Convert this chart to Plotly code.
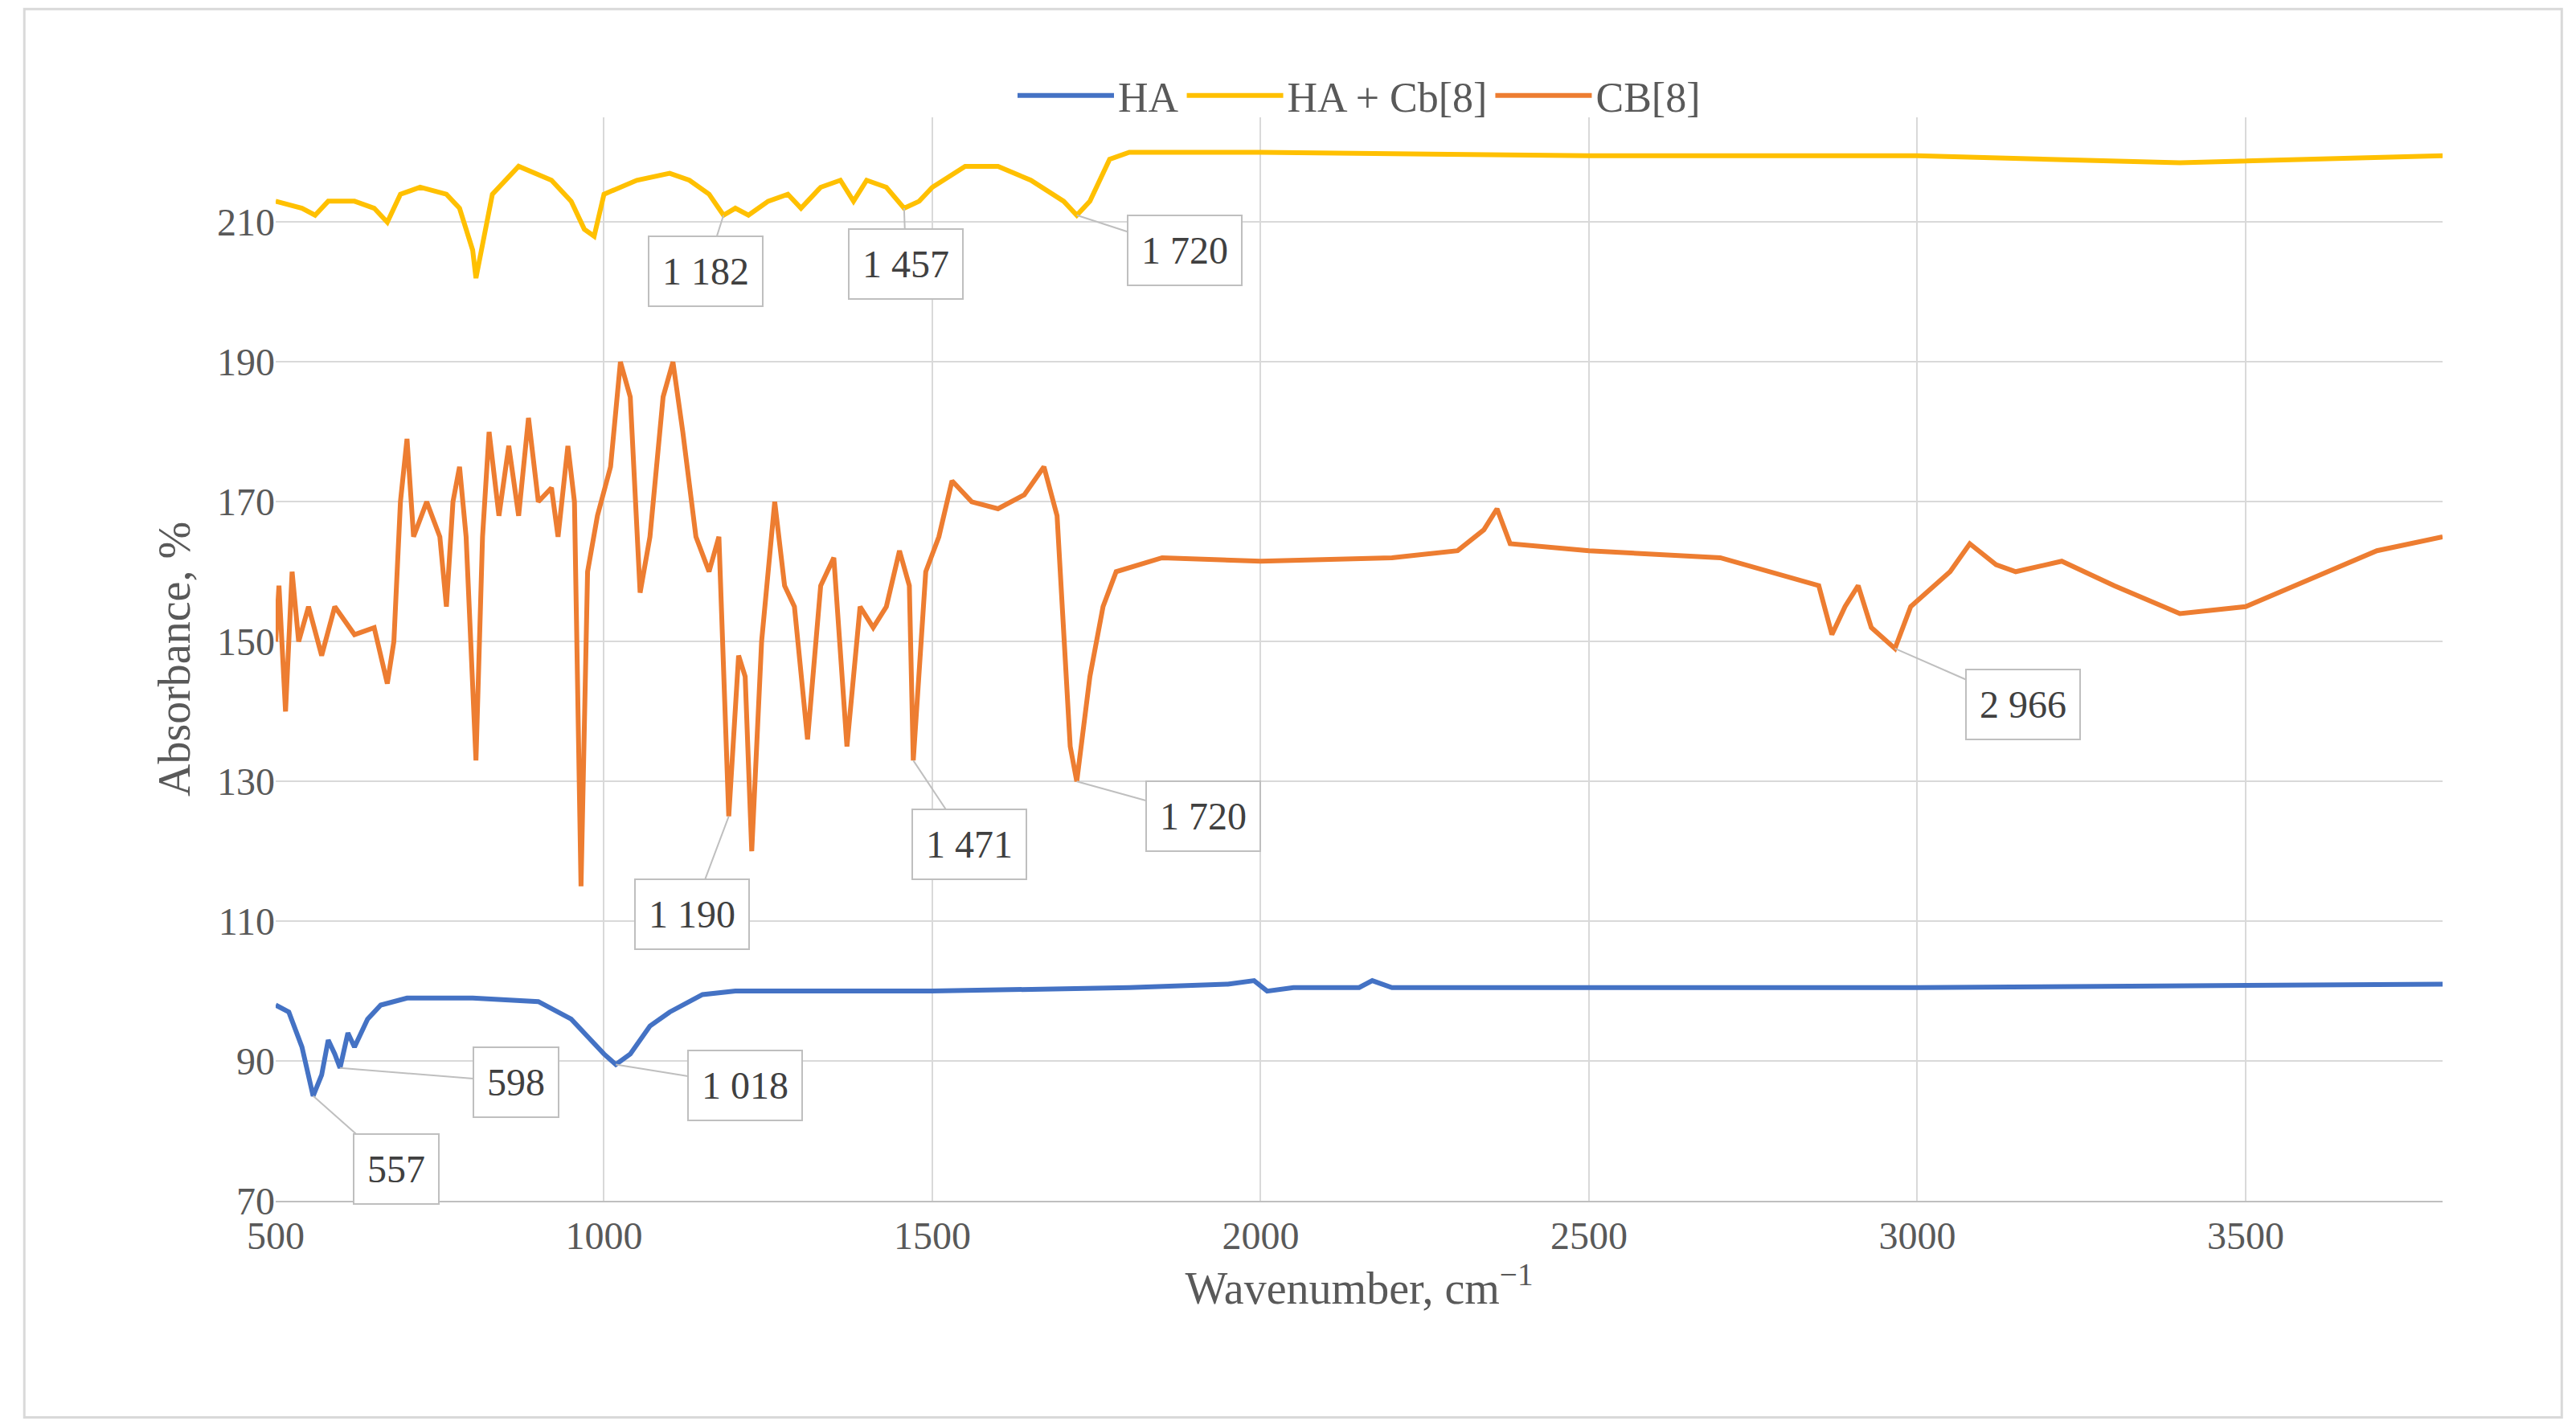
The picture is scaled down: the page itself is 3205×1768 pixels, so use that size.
import plotly.graph_objects as go

# HA spectrum
ha_x = [500, 520, 540, 557, 570, 580, 590, 598, 610, 620, 640, 660, 700, 800, 900, 950, 980, 1000, 1018,
        1040, 1070, 1100, 1150, 1200, 1500, 1800, 1950, 1990, 2010, 2050, 2150, 2170, 2200, 3000, 3800]
ha_y = [98, 97, 92, 85, 88, 93, 91, 89, 94, 92, 96, 98, 99, 99, 98.5, 96, 93, 91, 89.5,
        91, 95, 97, 99.5, 100, 100, 100.5, 101, 101.5, 100, 100.5, 100.5, 101.5, 100.5, 100.5, 101]

# HA + Cb[8] spectrum
hacb_x = [500, 540, 560, 580, 620, 650, 670, 690, 720, 760, 780, 800, 805, 815, 830, 870, 920, 950, 970, 985,
          1000, 1050, 1100, 1130, 1160, 1182, 1200, 1220, 1250, 1280, 1300, 1330, 1360, 1380, 1400, 1430,
          1457, 1480, 1500, 1550, 1600, 1650, 1700, 1720, 1740, 1770, 1800, 2000, 2500, 3000, 3400, 3800]
hacb_y = [213, 212, 211, 213, 213, 212, 210, 214, 215, 214, 212, 206, 202, 207, 214, 218, 216, 213, 209, 208,
          214, 216, 217, 216, 214, 211, 212, 211, 213, 214, 212, 215, 216, 213, 216, 215,
          212, 213, 215, 218, 218, 216, 213, 211, 213, 219, 220, 220, 219.5, 219.5, 218.5, 219.5]

# CB[8] spectrum
cb_x = [500, 505, 515, 525, 535, 550, 570, 590, 620, 650, 670, 680, 690, 700, 710, 730, 750, 760, 770, 780,
        790, 805, 815, 825, 840, 855, 870, 885, 900, 920, 930, 945, 955, 965, 975, 990, 1010, 1025, 1040,
        1055, 1070, 1090, 1105, 1120, 1140, 1160, 1175, 1190, 1205, 1215, 1225, 1240, 1260, 1275, 1290,
        1310, 1330, 1350, 1370, 1390, 1410, 1430, 1450, 1465, 1471, 1490, 1510, 1530, 1560, 1600, 1640,
        1670, 1690, 1710, 1720, 1740, 1760, 1780, 1850, 2000, 2200, 2300, 2340, 2360, 2380, 2500, 2700,
        2850, 2870, 2890, 2910, 2930, 2966, 2990, 3050, 3080, 3120, 3150, 3220, 3300, 3400, 3500, 3600,
        3700, 3800]
cb_y = [150, 158, 140, 160, 150, 155, 148, 155, 151, 152, 144, 150, 170, 179, 165, 170, 165, 155, 170, 175,
        165, 133, 165, 180, 168, 178, 168, 182, 170, 172, 165, 178, 170, 115, 160, 168, 175, 190, 185,
        157, 165, 185, 190, 180, 165, 160, 165, 125, 148, 145, 120, 150, 170, 158, 155,
        136, 158, 162, 135, 155, 152, 155, 163, 158, 133, 160, 165, 173, 170, 169, 171,
        175, 168, 135, 130, 145, 155, 160, 162, 161.5, 162, 163, 166, 169, 164, 163, 162,
        158, 151, 155, 158, 152, 149, 155, 160, 164, 161, 160, 161.5, 158, 154, 155, 159,
        163, 165]

# labels: text, arrow point (x, y), box centre (x, y)
labels = [
    ("1 182", 1182, 211, 1155, 203), ("1 457", 1457, 212, 1460, 204), ("1 720", 1720, 211, 1884, 206),
    ("1 190", 1190, 125, 1134, 111), ("1 471", 1471, 133, 1556, 121), ("1 720", 1720, 130, 1912, 125),
    ("2 966", 2966, 149, 3161, 141), ("598", 598, 89, 866, 87), ("557", 557, 85, 683, 74.5),
    ("1 018", 1018, 89.5, 1215, 86.5),
]

fig = go.Figure()
fig.add_trace(go.Scatter(x=ha_x, y=ha_y, mode='lines', name='HA', line=dict(color='#4472C4', width=6)))
fig.add_trace(go.Scatter(x=hacb_x, y=hacb_y, mode='lines', name='HA + Cb[8]', line=dict(color='#FFC000', width=6)))
fig.add_trace(go.Scatter(x=cb_x, y=cb_y, mode='lines', name='CB[8]', line=dict(color='#ED7D31', width=6)))

for text, px_, py_, bx, by in labels:
    fig.add_annotation(x=px_, y=py_, ax=bx, ay=by, axref='x', ayref='y', text=text,
                       showarrow=True, arrowhead=0, arrowwidth=2, arrowcolor='#bfbfbf',
                       bgcolor='white', bordercolor='#bfbfbf', borderwidth=2, borderpad=16,
                       font=dict(size=48, color='#404040'))

fig.add_shape(type='rect', xref='paper', yref='paper', x0=-0.116, y0=-0.2, x1=1.055, y1=1.1,
              line=dict(color='#d9d9d9', width=3))

fig.update_layout(
    width=3205, height=1768,
    margin=dict(l=335, r=174, t=138, b=282),
    paper_bgcolor='white', plot_bgcolor='white',
    font=dict(family='Liberation Serif', size=48, color='#595959'),
    legend=dict(orientation='h', x=0.5, xanchor='center', y=1.02, yanchor='middle',
                font=dict(size=52), itemwidth=120, bgcolor='rgba(0,0,0,0)'),
)
fig.update_xaxes(range=[500, 3800], tickvals=[500, 1000, 1500, 2000, 2500, 3000, 3500],
                 showgrid=True, gridcolor='#d9d9d9', gridwidth=2, showline=True, linecolor='#bfbfbf',
                 linewidth=2, zeroline=False, ticks='',
                 title=dict(text='Wavenumber, cm<sup>−1</sup>', font=dict(size=56)))
fig.update_yaxes(range=[70, 225], tickvals=[70, 90, 110, 130, 150, 170, 190, 210],
                 showgrid=True, gridcolor='#d9d9d9', gridwidth=2, zeroline=False, ticks='',
                 title=dict(text='Absorbance, %', font=dict(size=56)))

fig.write_html("out.html")
